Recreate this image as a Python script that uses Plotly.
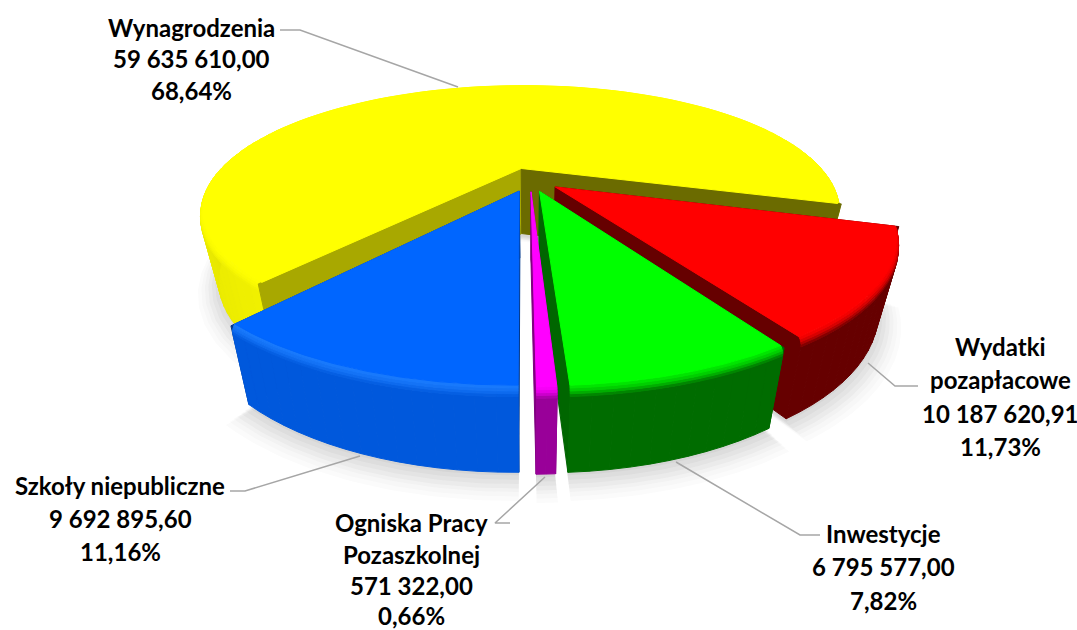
import math
import plotly.graph_objects as go

# ---- data ----
categories = ["Wynagrodzenia", "Wydatki pozapłacowe", "Inwestycje",
              "Ogniska Pracy Pozaszkolnej", "Szkoły niepubliczne"]
values = [59635610.00, 10187620.91, 6795577.00, 571322.00, 9692895.60]
value_labels = ["59 635 610,00", "10 187 620,91", "6 795 577,00", "571 322,00", "9 692 895,60"]
pct_labels = ["68,64%", "11,73%", "7,82%", "0,66%", "11,16%"]
name_lines = [["Wynagrodzenia"], ["Wydatki", "pozapłacowe"], ["Inwestycje"],
              ["Ogniska Pracy", "Pozaszkolnej"], ["Szkoły niepubliczne"]]

top_colors = ["#FFFF00", "#FF0000", "#00FF00", "#FF00FF", "#0066FF"]
bevel_colors = ["#FFFF00", "#FF0000", "#00F000", "#FF00FF", "#1A7CFF"]
# rim colour stops (degrees clockwise from 12 o'clock)
rim_stops = [
    [(0, "#e6e600"), (220, "#f0f000"), (270, "#e4e400"), (360, "#e6e600"), (467, "#d0d000")],
    [(107, "#8a0000"), (120, "#6a0000"), (149, "#660000")],
    [(149, "#005c00"), (165, "#007a00"), (177, "#006c00")],
    [(177, "#990099"), (180, "#990099")],
    [(180, "#003c96"), (200, "#0048b4"), (220, "#0058dc")],
]
wall_a0 = ["#a8a800", "#660000", "#006600", "#800080", "#00388c"]
wall_a1 = ["#6b6b00", "#660000", "#006600", "#800080", "#00388c"]
start_angle = 219.6
explode = 0.10

# label placement
label_x = [191, 1000, 883, 411, 120]
label_y = [[27, 58, 90], [346, 379, 413, 446], [533, 566, 600], [522, 554, 585, 615], [485, 518, 551]]
leaders = [
    [(280, 30), (300, 30), (458, 87)],
    [(918, 386), (895, 386), (868, 363)],
    [(820, 535), (800, 535), (676, 462)],
    [(510, 523), (495, 523), (545, 477)],
    [(230, 491), (245, 491), (360, 456)],
]

# projection parameters
CX, CY = 530, 179.5
A, B, K = 313, 118.8, 0.3445
H0, H1 = 36, 30
NARROW = 0.06


def project(X, Y, z):
    w = 1 + K * Y
    x = CX + A * X / w * (1 - NARROW * z)
    y = CY - B * Y / w + z * (H0 + H1 / w)
    return x, y


def hex2rgb(c):
    return tuple(int(c[i:i + 2], 16) for i in (1, 3, 5))


def mix(c1, c2, t):
    a, b = hex2rgb(c1), hex2rgb(c2)
    return "#%02x%02x%02x" % tuple(round(a[i] + (b[i] - a[i]) * t) for i in range(3))


def rim_color(stops, th):
    if th <= stops[0][0]:
        return stops[0][1]
    for (t0, c0), (t1, c1) in zip(stops, stops[1:]):
        if th <= t1:
            return mix(c0, c1, (th - t0) / (t1 - t0))
    return stops[-1][1]


traces = []


def poly(pts, color, line=True):
    xs = [p[0] for p in pts] + [pts[0][0]]
    ys = [p[1] for p in pts] + [pts[0][1]]
    traces.append(go.Scatter(
        x=xs, y=ys, mode="lines", fill="toself", fillcolor=color,
        line=dict(color=color, width=1 if line else 0),
        hoverinfo="skip", showlegend=False))


# slice angular ranges derived from values
total = sum(values)
spans = []
a0 = start_angle
for v in values:
    a1 = a0 + v / total * 360
    spans.append((a0, a1))
    a0 = a1


def point(i, th, r, z):
    a0, a1 = spans[i]
    mid = math.radians((a0 + a1) / 2)
    t = math.radians(th)
    X = explode * math.sin(mid) + r * math.sin(t)
    Y = explode * math.cos(mid) + r * math.cos(t)
    return project(X, Y, z)


def apex(i, z):
    return point(i, spans[i][0], 0, z)


def arc(i, r, z, n=60):
    a0, a1 = spans[i]
    return [point(i, a0 + (a1 - a0) * j / n, r, z) for j in range(n + 1)]


# soft shadow under the slices
for grow, dy, al in [(1.06, 8, 0.02), (1.05, 7, 0.022), (1.04, 6, 0.028),
                     (1.03, 6, 0.034), (1.02, 5, 0.04), (1.01, 4, 0.045), (1.0, 3, 0.05)]:
    for i in range(5):
        pts = [(x, y + dy) for x, y in arc(i, grow, 1.0, 40)]
        ap = apex(i, 1.0)
        pts = pts + [(ap[0], ap[1] + dy)]
        poly(pts, "rgba(70,70,70,%.3f)" % al, line=False)

# rim profile: (radius, depth, radius, depth, blend to top colour)
bands = [(1.0, 1.0, 1.0, 0.10, 0.0), (1.0, 0.10, 0.999, 0.07, 0.2),
         (0.999, 0.07, 0.997, 0.045, 0.5), (0.997, 0.045, 0.994, 0.02, 0.75),
         (0.994, 0.02, 0.99, 0.0, 0.92)]


def wall(i, th, col):
    poly([apex(i, 0), point(i, th, 1.0, 0), point(i, th, 1.0, 1), apex(i, 1)], col)


for i in range(5):
    a0, a1 = spans[i]
    n = max(2, int((a1 - a0) / 2.5))
    if i != 0:  # back-facing walls end up hidden under rim and top
        wall(i, a0, wall_a0[i])
        wall(i, a1, wall_a1[i])
    for r0, z0, r1, z1, blend in bands:
        for j in range(n):
            t0 = a0 + (a1 - a0) * j / n
            t1 = a0 + (a1 - a0) * (j + 1) / n
            c = mix(rim_color(rim_stops[i], (t0 + t1) / 2), bevel_colors[i], blend)
            poly([point(i, t0, r0, z0), point(i, t1, r0, z0),
                  point(i, t1, r1, z1), point(i, t0, r1, z1)], c)
    if i == 0:  # the big slice's notch walls sit in front of its far rim
        wall(i, a0, wall_a0[i])
        wall(i, a1, wall_a1[i])
    # top face
    poly([apex(i, 0)] + arc(i, 0.99, 0, 80), top_colors[i])

fig = go.Figure(traces)

for pts in leaders:
    fig.add_trace(go.Scatter(x=[p[0] for p in pts], y=[p[1] for p in pts], mode="lines",
                             line=dict(color="#a6a6a6", width=1.5),
                             hoverinfo="skip", showlegend=False))

for i in range(5):
    lines = name_lines[i] + [value_labels[i], pct_labels[i]]
    for txt, y in zip(lines, label_y[i]):
        fig.add_annotation(x=label_x[i], y=y, text="<b>%s</b>" % txt, showarrow=False,
                           xanchor="center", yanchor="middle",
                           font=dict(family="Lato", size=24, color="#000000"))

fig.update_layout(
    width=1077, height=630, margin=dict(l=0, r=0, t=0, b=0),
    paper_bgcolor="white", plot_bgcolor="white", showlegend=False,
    xaxis=dict(range=[0, 1077], visible=False, fixedrange=True),
    yaxis=dict(range=[630, 0], visible=False, fixedrange=True),
)
fig.write_html("out.html", config={"displayModeBar": False},
               post_script="document.body.style.margin='0';document.documentElement.style.overflow='hidden';")
